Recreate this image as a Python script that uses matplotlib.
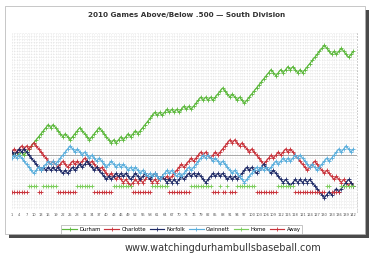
import numpy as np
import matplotlib
matplotlib.use("Agg")
import matplotlib.pyplot as plt
from matplotlib.patches import Rectangle

games = list(range(1, 143))
xtick_labels = list(range(1, 143, 3))

durham = [1,0,1,0,1,0,1,2,3,4, 5,6,7,8,9,10,9,10,9,8,
          7,6,7,6,5,6,7,8,9,8, 7,6,5,6,7,8,9,8,7,6,
          5,4,5,4,5,6,5,6,7,6, 7,8,7,8,9,10,11,12,13,14,
          13,14,13,14,15,14,15,14,15,14, 15,16,15,16,15,16,17,18,19,18,
          19,18,19,18,19,20,21,22,21,20, 19,20,19,18,19,18,17,18,19,20,
          21,22,23,24,25,26,27,28,27,26, 27,28,27,28,29,28,29,28,27,28,
          27,28,29,30,31,32,33,34,35,36, 35,34,33,34,33,34,35,34,33,32,
          33,34]
charlotte = [1,2,1,2,3,2,3,2,3,4, 3,2,1,0,-1,-2,-3,-2,-3,-4,
             -3,-2,-3,-4,-3,-2,-3,-2,-3,-2, -1,-2,-3,-2,-3,-4,-5,-4,-5,-6,
             -7,-6,-7,-8,-7,-8,-9,-8,-9,-10, -9,-8,-9,-8,-9,-8,-7,-8,-9,-8,
             -9,-8,-7,-8,-7,-8,-7,-6,-5,-4, -3,-4,-3,-2,-1,-2,-1,0,1,0,
             1,0,-1,0,1,0,1,2,3,4, 5,4,5,4,3,4,3,2,1,2,
             1,0,-1,-2,-3,-2,-1,0,-1,0, 1,0,1,2,1,2,1,0,-1,-2,
             -3,-4,-5,-4,-3,-2,-3,-4,-5,-6, -5,-6,-7,-8,-7,-8,-9,-8,-9,-10,
             -9,-10]
norfolk = [1,0,1,2,1,2,1,0,-1,-2, -3,-4,-5,-4,-5,-4,-5,-4,-5,-4,
           -5,-6,-5,-6,-5,-4,-5,-4,-3,-4, -3,-2,-3,-4,-5,-4,-5,-6,-7,-8,
           -7,-8,-7,-6,-7,-6,-7,-6,-7,-8, -7,-6,-7,-8,-7,-6,-7,-8,-7,-6,
           -7,-8,-7,-8,-9,-8,-9,-8,-9,-8, -7,-8,-7,-6,-7,-6,-7,-6,-7,-8,
           -9,-8,-7,-6,-7,-6,-7,-6,-7,-8, -7,-8,-7,-8,-7,-6,-5,-4,-5,-4,
           -5,-6,-5,-4,-3,-4,-5,-6,-5,-6, -7,-8,-9,-8,-9,-10,-9,-8,-9,-8,
           -9,-8,-9,-8,-9,-10,-11,-12,-13,-14, -13,-12,-13,-12,-11,-12,-11,-10,-9,-8,
           -9,-10]
gwinnett = [-1,0,-1,0,-1,-2,-3,-4,-5,-6, -5,-4,-5,-4,-3,-2,-3,-2,-3,-2,
            -1,0,1,2,3,2,1,2,1,0, 1,0,-1,0,-1,-2,-1,-2,-3,-4,
            -3,-2,-3,-4,-3,-4,-3,-4,-5,-4, -5,-4,-5,-6,-5,-6,-7,-6,-7,-6,
            -7,-8,-7,-6,-5,-6,-5,-6,-7,-6, -7,-6,-5,-4,-5,-4,-3,-2,-1,0,
            -1,0,-1,-2,-1,-2,-3,-2,-3,-4, -5,-6,-5,-6,-7,-8,-9,-8,-7,-6,
            -5,-4,-5,-4,-5,-4,-5,-4,-3,-2, -3,-2,-1,-2,-1,-2,-1,0,-1,0,
            -1,-2,-3,-4,-3,-4,-5,-4,-3,-2, -1,-2,-1,0,1,2,1,2,3,2,
            1,2]
venue = ("AAAAAAA" "HHHH" "AA" "HHHHHH" "AAAAAAAA" "HHHHHHH" "AAAAAAAA"
         "HHHHHHHH" "AAAAAAAA" "HHHHHHH" "AAAAAAAAA" "HHHHHHHHH" "AAA" "H"
         "AA" "H" "AAA" "HHHHHHHH" "AAAAAAAAA" "HHHHHHH" "AAAAAAAAAAAAA"
         "HH" "AAAA" "HHHHHH")
home_level = -10
away_level = -12
home = [home_level if c == "H" else np.nan for c in venue]
away = [away_level if c == "A" else np.nan for c in venue]

series_names = ["Durham", "Charlotte", "Norfolk", "Gwinnett", "Home", "Away"]
colors = ["#5cb83c", "#c8323a", "#1e2a66", "#5aaedc", "#7acc5a", "#c8323a"]
data = [durham, charlotte, norfolk, gwinnett, home, away]

W, H = 380, 256
fig = plt.figure(figsize=(W / 100, H / 100), dpi=100)
fig.patch.set_facecolor("white")

# card with shadow
fig.patches.append(Rectangle((9 / W, 1 - 238 / H), 360 / W, 228 / H,
                             transform=fig.transFigure, facecolor="#4a4a4a",
                             edgecolor="none", zorder=0))
fig.patches.append(Rectangle((5 / W, 1 - 234 / H), 360 / W, 228 / H,
                             transform=fig.transFigure, facecolor="white",
                             edgecolor="#b0b0b0", lw=0.5, zorder=1))

ax = fig.add_axes([12 / W, 1 - 210 / H, 345 / W, 177 / H])
ax.set_facecolor("none")
ax.set_zorder(2)
ymin, ymax = -18, 40
ax.set_xlim(1, 143.5)
ax.set_ylim(ymin, ymax)

for g in games:
    ax.axvline(g, color="#d2d2d2", lw=0.4, ls=(0, (1, 1.8)), zorder=0)
for v in range(ymin, ymax + 1):
    ax.axhline(v, color="#d2d2d2", lw=0.4, ls=(0, (1, 1.8)), zorder=0)
ax.axhline(0, color="#a8a8a8", lw=0.7, zorder=1)

for name, c, d in zip(series_names, colors, data):
    ax.plot(games, d, color=c, lw=0.85, marker="+", markersize=2.6,
            markeredgewidth=0.6, label=name, zorder=3)

for s in ax.spines.values():
    s.set_visible(False)
ax.set_xticks(xtick_labels)
ax.set_xticklabels([str(t) for t in xtick_labels], fontsize=2.6, color="#555555")
ax.tick_params(axis="x", length=0, pad=2)
ax.yaxis.tick_right()
ax.set_yticks(range(ymin, ymax + 1))
ax.set_yticklabels([str(v) for v in range(ymin, ymax + 1)], fontsize=1.6,
                   color="#888888", rotation=90, va="center")
ax.tick_params(axis="y", length=0, pad=0.5)

fig.text(187 / W, 1 - 15.5 / H, "2010 Games Above/Below .500 \u2014 South Division",
         ha="center", va="center", fontsize=5.2, fontweight="bold", color="#333333")

leg = fig.legend(loc="center", bbox_to_anchor=(181.5 / W, 1 - 229.5 / H), ncol=6,
                 fontsize=3.8, frameon=True, fancybox=False, edgecolor="#999999",
                 handlelength=2.8, columnspacing=0.7, handletextpad=0.4,
                 borderpad=0.35)
leg.get_frame().set_linewidth(0.5)
leg.set_zorder(5)

fig.text(223 / W, 1 - 248 / H, "www.watchingdurhambullsbaseball.com",
         ha="center", va="center", fontsize=7, color="#333333")

fig.savefig("out.png", dpi=100, facecolor="white")
